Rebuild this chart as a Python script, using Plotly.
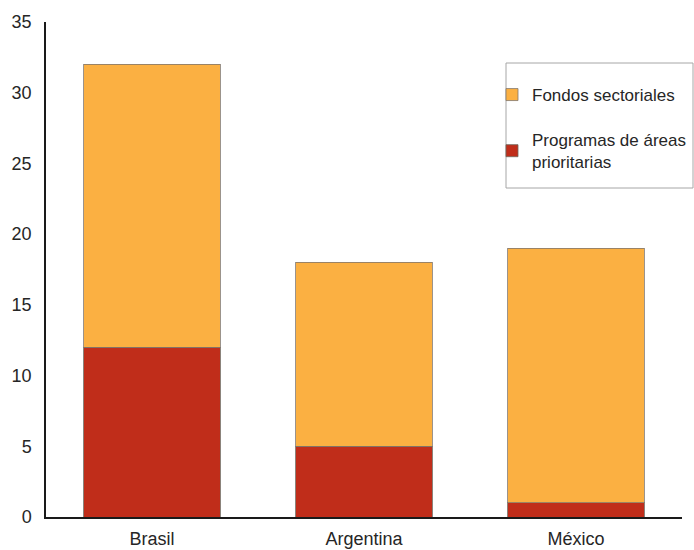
import plotly.graph_objects as go

# Data
paises = ["Brasil", "Argentina", "México"]
programas = [12, 5, 1]           # Programas de áreas prioritarias
fondos = [20, 13, 18]            # Fondos sectoriales (apilado encima)

ORANGE = "#FBB042"
RED = "#C02D1A"
TEXT = "#262626"
FONT = "Liberation Sans, Arial, sans-serif"

fig = go.Figure()
fig.add_trace(go.Bar(
    x=paises, y=programas, name="Programas de áreas<br>prioritarias",
    marker=dict(color=RED, line=dict(color="rgba(110,100,90,0.8)", width=1)),
    legendgroup="prog", legendrank=2,
))
fig.add_trace(go.Bar(
    x=paises, y=fondos, name="Fondos sectoriales",
    marker=dict(color=ORANGE, line=dict(color="rgba(130,120,110,0.8)", width=1)),
    legendgroup="fond", legendrank=1,
))

# Margins: the paper area runs to the right edge so the legend box can reach it
W, H = 694, 550
L, T, B = 46, 22, 33
PLOT_RIGHT = 682
pw, ph = W - L, H - T - B

def px_x(v):
    return (v - L) / pw

def px_y(v):
    return (H - B - v) / ph

fig.update_layout(
    width=W, height=H,
    margin=dict(l=L, r=0, t=T, b=B, pad=0),
    barmode="stack",
    bargap=0.355,
    plot_bgcolor="white",
    paper_bgcolor="white",
    font=dict(family=FONT, size=17, color=TEXT),
    showlegend=True,
    legend=dict(
        x=px_x(492), y=px_y(77), xanchor="left", yanchor="top",
        bgcolor="rgba(0,0,0,0)", borderwidth=0,
        traceorder="grouped", tracegroupgap=20,
        font=dict(family=FONT, size=17, color=TEXT),
    ),
    xaxis=dict(
        domain=[0, px_x(PLOT_RIGHT)], automargin=False,
        showline=True, linecolor="#1a1a1a", linewidth=1.5,
        ticks="", tickfont=dict(size=18, color=TEXT), ticklabelstandoff=5,
        showgrid=False, range=[-0.5, 2.5], fixedrange=True,
    ),
    yaxis=dict(
        automargin=False,
        range=[0, 35], dtick=5, showline=True, linecolor="#1a1a1a", linewidth=1.5,
        ticks="", tickfont=dict(size=18, color=TEXT), ticklabelstandoff=9,
        showgrid=False, zeroline=False, fixedrange=True,
    ),
    shapes=[dict(
        type="rect", xref="paper", yref="paper",
        x0=px_x(506), x1=px_x(693), y0=px_y(188), y1=px_y(63),
        line=dict(color="#a6a6a6", width=1), fillcolor="rgba(0,0,0,0)",
    )],
)

fig.write_html("out.html")
